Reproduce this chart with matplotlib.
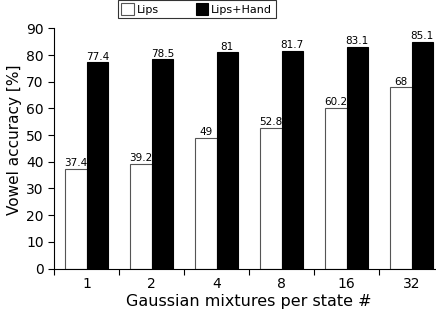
import matplotlib.pyplot as plt
import numpy as np

# data
mixtures = ["1", "2", "4", "8", "16", "32"]
lips = [37.4, 39.2, 49, 52.8, 60.2, 68]
lips_hand = [77.4, 78.5, 81, 81.7, 83.1, 85.1]

fig = plt.figure(figsize=(4.36, 3.15), dpi=100)
ax = fig.add_axes([0.1239, 0.1476, 0.8945, 0.762])

x = np.arange(len(mixtures))
w = 0.33
b1 = ax.bar(x - w / 2, lips, w, color="white", edgecolor="#555555",
            linewidth=0.8, label="Lips")
b2 = ax.bar(x + w / 2, lips_hand, w, color="black", edgecolor="black",
            linewidth=0.8, label="Lips+Hand")

# value labels over each bar
for bars, vals in ((b1, lips), (b2, lips_hand)):
    for r, v in zip(bars, vals):
        ax.text(r.get_x() + r.get_width() / 2, v + 0.2, "%g" % v,
                ha="center", va="bottom", fontsize=7.5)

ax.set_xlim(-0.5, len(mixtures) - 0.5)
ax.set_ylim(0, 90)
ax.set_yticks(range(0, 91, 10))
ax.tick_params(axis="y", labelsize=10, length=4)

# ticks at group boundaries, labels in the middle
ax.set_xticks(np.arange(len(mixtures) + 1) - 0.5)
ax.set_xticklabels([])
ax.set_xticks(x, minor=True)
ax.set_xticklabels(mixtures, minor=True, fontsize=10)
ax.tick_params(axis="x", which="minor", length=0, pad=6)
ax.tick_params(axis="x", which="major", length=4)

ax.spines["top"].set_visible(False)
ax.spines["right"].set_visible(False)

ax.set_xlabel("Gaussian mixtures per state #", fontsize=11.5, labelpad=2)
ax.set_ylabel("Vowel accuracy [%]", fontsize=11)
ax.yaxis.set_label_coords(-0.082, 0.535)

leg = fig.legend(loc="upper left", bbox_to_anchor=(118 / 436, 1.0), ncol=2,
                 fontsize=8, frameon=True, fancybox=False, handlelength=1.1,
                 handleheight=1.2, columnspacing=3.3, borderpad=0.3,
                 handletextpad=0.3, borderaxespad=0)
leg.get_frame().set_edgecolor("black")
leg.get_frame().set_linewidth(0.8)

fig.savefig("out.png", dpi=100)
